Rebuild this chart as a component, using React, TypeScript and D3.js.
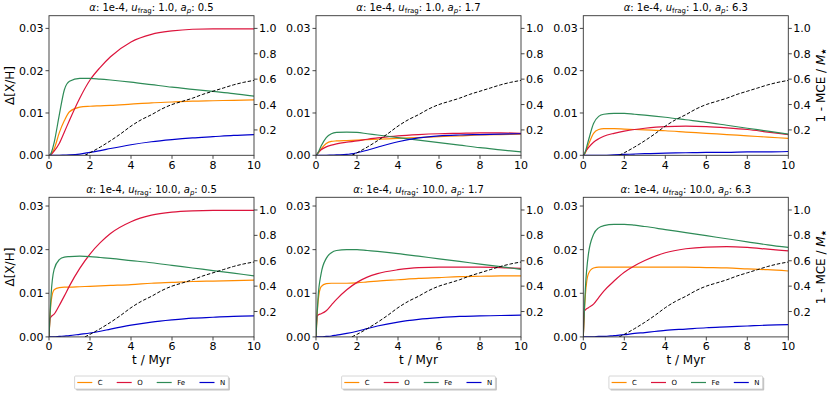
import React from "react";
import * as d3 from "d3";

// ---------- data ----------
const T = [0, 0.05, 0.1, 0.25, 0.5, 0.75, 1, 1.5, 2, 2.5, 3, 4, 5, 6, 7, 8, 9, 10];

const C1 = [0, 0.0001, 0.0003, 0.0015, 0.0053, 0.0082, 0.0103, 0.0114, 0.0116, 0.0117, 0.0118, 0.0121, 0.0124, 0.0126, 0.0128, 0.0129, 0.013, 0.0131];
const O1 = [0, 0.0, 0.0002, 0.001, 0.0028, 0.0055, 0.0083, 0.0135, 0.0178, 0.0208, 0.0233, 0.0268, 0.0286, 0.0294, 0.0298, 0.0299, 0.0299, 0.0299];
const FE1 = [0, 0.0001, 0.0005, 0.003, 0.0095, 0.0155, 0.0175, 0.0182, 0.0182, 0.018, 0.0178, 0.0173, 0.0167, 0.0161, 0.0156, 0.0151, 0.0146, 0.014];
const N1 = [0, 0, 0, 0, 0, 0.00005, 0.0001, 0.0003, 0.0007, 0.0011, 0.0016, 0.0025, 0.0032, 0.0037, 0.0041, 0.0044, 0.0047, 0.0049];

const C2 = [0, 0.0002, 0.0005, 0.0015, 0.0028, 0.0033, 0.0034, 0.0035, 0.0036, 0.0037, 0.0038, 0.004, 0.0042, 0.0044, 0.0046, 0.0048, 0.0049, 0.005];
const O2 = [0, 0.0003, 0.0006, 0.0013, 0.002, 0.0024, 0.0027, 0.0031, 0.0034, 0.0038, 0.0041, 0.0046, 0.0049, 0.0051, 0.0052, 0.0053, 0.0053, 0.0052];
const FE2 = [0, 0.0002, 0.0006, 0.0022, 0.0042, 0.0051, 0.0054, 0.0055, 0.0054, 0.0051, 0.0048, 0.0042, 0.0036, 0.003, 0.0024, 0.0018, 0.0013, 0.0008];
const N2 = [0, 0, 0, 0, 0, 0.00005, 0.0001, 0.0002, 0.0006, 0.0012, 0.0019, 0.0032, 0.0041, 0.0046, 0.0048, 0.0049, 0.005, 0.0051];

const C3 = [0, 0.0002, 0.0006, 0.0025, 0.0052, 0.0061, 0.0063, 0.0063, 0.0062, 0.0061, 0.006, 0.0058, 0.0055, 0.0052, 0.0049, 0.0046, 0.0043, 0.004];
const O3 = [0, 0.0003, 0.0008, 0.0018, 0.0031, 0.0039, 0.0045, 0.0052, 0.0057, 0.0061, 0.0064, 0.0068, 0.0069, 0.0068, 0.0065, 0.0061, 0.0055, 0.0049];
const FE3 = [0, 0.0003, 0.0009, 0.0035, 0.0075, 0.0092, 0.0097, 0.0099, 0.0099, 0.0097, 0.0095, 0.009, 0.0084, 0.0078, 0.0071, 0.0064, 0.0057, 0.005];
const N3 = [0, 0, 0, 0, 0, 0, 0, 0.0001, 0.0002, 0.0003, 0.0004, 0.0005, 0.0006, 0.0007, 0.0007, 0.0008, 0.0008, 0.0009];

const C4 = [0, 0.0045, 0.008, 0.0108, 0.0113, 0.0114, 0.0114, 0.0115, 0.0116, 0.0117, 0.0118, 0.012, 0.0123, 0.0125, 0.0127, 0.0128, 0.0129, 0.013];
const O4 = [0, 0.0042, 0.0046, 0.0052, 0.0072, 0.0094, 0.0117, 0.0157, 0.019, 0.0216, 0.0237, 0.0264, 0.0279, 0.0286, 0.0289, 0.029, 0.029, 0.029];
const FE4 = [0, 0.005, 0.0095, 0.0155, 0.0177, 0.0183, 0.0184, 0.0185, 0.0184, 0.0182, 0.018, 0.0175, 0.017, 0.0164, 0.0158, 0.0152, 0.0146, 0.014];
const N4 = [0, 0, 0, 0, 0.0001, 0.0002, 0.0003, 0.0006, 0.0009, 0.0013, 0.0018, 0.0027, 0.0034, 0.0039, 0.0043, 0.0045, 0.0047, 0.0048];

const C5 = [0, 0.0045, 0.008, 0.0115, 0.0122, 0.0123, 0.0123, 0.0123, 0.0124, 0.0126, 0.0128, 0.0131, 0.0134, 0.0136, 0.0138, 0.0139, 0.014, 0.014];
const O5 = [0, 0.0047, 0.005, 0.0053, 0.006, 0.0073, 0.0086, 0.0108, 0.0125, 0.0137, 0.0145, 0.0154, 0.0159, 0.016, 0.016, 0.016, 0.0159, 0.0157];
const FE5 = [0, 0.005, 0.009, 0.0145, 0.018, 0.0193, 0.0198, 0.02, 0.02, 0.0198, 0.0196, 0.0191, 0.0185, 0.0179, 0.0173, 0.0167, 0.0161, 0.0155];
const N5 = [0, 0, 0, 0, 0.0001, 0.0002, 0.0004, 0.0008, 0.0013, 0.0019, 0.0025, 0.0034, 0.004, 0.0044, 0.0047, 0.0048, 0.0049, 0.005];

const C6 = [0, 0.0055, 0.0095, 0.0145, 0.0158, 0.016, 0.016, 0.016, 0.016, 0.016, 0.016, 0.016, 0.016, 0.0159, 0.0158, 0.0156, 0.0154, 0.0151];
const O6 = [0, 0.0058, 0.0062, 0.0067, 0.0075, 0.009, 0.0105, 0.0128, 0.0148, 0.0163, 0.0175, 0.0193, 0.0202, 0.0206, 0.0207, 0.0205, 0.0201, 0.0197];
const FE6 = [0, 0.006, 0.011, 0.019, 0.0235, 0.025, 0.0255, 0.0258, 0.0258, 0.0256, 0.0253, 0.0246, 0.0239, 0.0232, 0.0225, 0.0218, 0.0211, 0.0205];
const N6 = [0, 0, 0, 0, 0, 0.0001, 0.0001, 0.0003, 0.0005, 0.0008, 0.001, 0.0015, 0.0018, 0.0021, 0.0023, 0.0025, 0.0027, 0.0028];

// 1 - MCE / M*  (right axis, same in all panels)
const MCE_T = [1.75, 2, 2.5, 3, 3.5, 4, 4.5, 5, 5.5, 6, 6.5, 7, 7.5, 8, 8.5, 9, 9.5, 10];
const MCE_V = [0, 0.02, 0.065, 0.115, 0.17, 0.23, 0.28, 0.32, 0.365, 0.4, 0.425, 0.45, 0.48, 0.505, 0.53, 0.555, 0.575, 0.59];

const SPECIES = ["C", "O", "Fe", "N"];
const COLORS = ["#ff8c00", "#dc143c", "#2e8b57", "#0000cd"];
const UFRAG = ["1.0", "10.0"];
const APL = ["0.5", "1.7", "6.3"];
const PANELS = [
  [C1, O1, FE1, N1],
  [C2, O2, FE2, N2],
  [C3, O3, FE3, N3],
  [C4, O4, FE4, N4],
  [C5, O5, FE5, N5],
  [C6, O6, FE6, N6],
];
const YMAX_ROW = [0.033, 0.032];
const X_TICKS = [0, 2, 4, 6, 8, 10];
const YL_TICKS = [0, 0.01, 0.02, 0.03];
const YR_TICKS = [0.2, 0.4, 0.6, 0.8, 1.0];

// ---------- layout ----------
const W = 830;
const H = 393;
const COL_X = [49, 316, 583.3];
const ROW_Y = [15.7, 197.3];
const PW = 205;
const PH = 139.6;
const FONT = "DejaVu Sans, sans-serif";
const AXC = "#333";
const TXT = "#000";

function Panel({ idx }: { idx: number }) {
  const row = Math.floor(idx / 3);
  const col = idx % 3;
  const x0 = COL_X[col];
  const y0 = ROW_Y[row];
  const x = d3.scaleLinear().domain([0, 10]).range([x0, x0 + PW]);
  const yl = d3.scaleLinear().domain([0, YMAX_ROW[row]]).range([y0 + PH, y0]);
  const yr = d3.scaleLinear().domain([0, 1.1]).range([y0 + PH, y0]);
  const series = PANELS[idx];
  const line = d3
    .line<number>()
    .x((_, i) => x(T[i]))
    .y((v) => yl(v))
    .curve(d3.curveMonotoneX);
  const dline = d3
    .line<number>()
    .x((_, i) => x(MCE_T[i]))
    .y((v) => yr(v))
    .curve(d3.curveMonotoneX);
  const bottom = y0 + PH;
  const right = x0 + PW;
  const cx = x0 + PW / 2;
  const clipId = `clip${idx}`;
  return (
    <g>
      <defs>
        <clipPath id={clipId}>
          <rect x={x0} y={y0} width={PW} height={PH} />
        </clipPath>
      </defs>
      <g clipPath={`url(#${clipId})`}>
        {series.map((s, i) => (
          <path key={i} d={line(s) || ""} fill="none" stroke={COLORS[i]} strokeWidth={1.2} />
        ))}
        <path d={dline(MCE_V) || ""} fill="none" stroke="#000" strokeWidth={1} strokeDasharray="3.5,1.8" />
      </g>
      <rect x={x0} y={y0} width={PW} height={PH} fill="none" stroke={AXC} strokeWidth={0.9} />
      {X_TICKS.map((t) => (
        <g key={"x" + t}>
          <line x1={x(t)} x2={x(t)} y1={bottom} y2={bottom + 3.5} stroke={AXC} strokeWidth={0.9} />
          <text x={x(t)} y={bottom + 13.5} fontSize={11} textAnchor="middle" fill={TXT}>
            {t}
          </text>
        </g>
      ))}
      {YL_TICKS.map((v) => (
        <g key={"yl" + v}>
          <line x1={x0 - 3.5} x2={x0} y1={yl(v)} y2={yl(v)} stroke={AXC} strokeWidth={0.9} />
          <text x={x0 - 5.5} y={yl(v) + 4} fontSize={11} textAnchor="end" fill={TXT}>
            {v.toFixed(2)}
          </text>
        </g>
      ))}
      {YR_TICKS.map((v) => (
        <g key={"yr" + v}>
          <line x1={right} x2={right + 3.5} y1={yr(v)} y2={yr(v)} stroke={AXC} strokeWidth={0.9} />
          <text x={right + 5} y={yr(v) + 4} fontSize={11} textAnchor="start" fill={TXT}>
            {v.toFixed(1)}
          </text>
        </g>
      ))}
      <text x={cx} y={y0 - 4.5} fontSize={10} textAnchor="middle" fill={TXT}>
        <tspan fontStyle="italic">α</tspan>
        <tspan>: 1e-4, </tspan>
        <tspan fontStyle="italic">u</tspan>
        <tspan fontSize={7} dy={2}>frag</tspan>
        <tspan dy={-2}>{`: ${UFRAG[row]}, `}</tspan>
        <tspan fontStyle="italic">a</tspan>
        <tspan fontSize={7} fontStyle="italic" dy={2}>p</tspan>
        <tspan dy={-2}>{`: ${APL[col]}`}</tspan>
      </text>
      {col === 0 && (
        <text
          transform={`translate(${10},${y0 + PH / 2}) rotate(-90)`}
          fontSize={12}
          textAnchor="middle"
          dominantBaseline="central"
          fill={TXT}
        >
          Δ[X/H]
        </text>
      )}
      {col === 2 && (
        <text
          transform={`translate(${821},${y0 + PH / 2}) rotate(-90)`}
          fontSize={12}
          textAnchor="middle"
          dominantBaseline="central"
          fill={TXT}
        >
          <tspan>1 - MCE / </tspan>
          <tspan fontStyle="italic">M</tspan>
          <tspan fontSize={7} dy={2.5}>★</tspan>
        </text>
      )}
      {row === 1 && (
        <>
          <text x={cx} y={bottom + 27} fontSize={12} textAnchor="middle" fill={TXT}>
            t / Myr
          </text>
          <Legend cx={cx} cy={382.5} />
        </>
      )}
    </g>
  );
}

const LEG_TW = [4.9, 5.5, 8.3, 5.2];

function Legend({ cx, cy }: { cx: number; cy: number }) {
  const seg = 15;
  const gap = 5.5;
  const colGap = 14;
  const padL = 2.7;
  const padR = 3.2;
  let total = padL + padR;
  LEG_TW.forEach((w, i) => {
    total += seg + gap + w + (i < 3 ? colGap : 0);
  });
  const left = cx - total / 2;
  const h = 13;
  let xx = left + padL;
  const items = SPECIES.map((s, i) => {
    const it = { x: xx, s, c: COLORS[i] };
    xx += seg + gap + LEG_TW[i] + colGap;
    return it;
  });
  return (
    <g>
      <rect x={left + 1.5} y={cy - h / 2 + 1.5} width={total} height={h} fill="#888" opacity={0.5} rx={1} />
      <rect x={left} y={cy - h / 2} width={total} height={h} fill="#fff" stroke="#ccc" strokeWidth={0.8} rx={1} />
      {items.map((it) => (
        <g key={it.s}>
          <line x1={it.x} x2={it.x + seg} y1={cy} y2={cy} stroke={it.c} strokeWidth={1.2} />
          <text x={it.x + seg + gap} y={cy + 2.5} fontSize={7} fill={TXT}>
            {it.s}
          </text>
        </g>
      ))}
    </g>
  );
}

export default function App() {
  return (
    <svg
      width={W}
      height={H}
      style={{ position: "absolute", left: 0, top: 0, background: "#fff" }}
      fontFamily={FONT}
    >
      <rect x={0} y={0} width={W} height={H} fill="#fff" />
      {PANELS.map((_, i) => (
        <Panel key={i} idx={i} />
      ))}
    </svg>
  );
}
